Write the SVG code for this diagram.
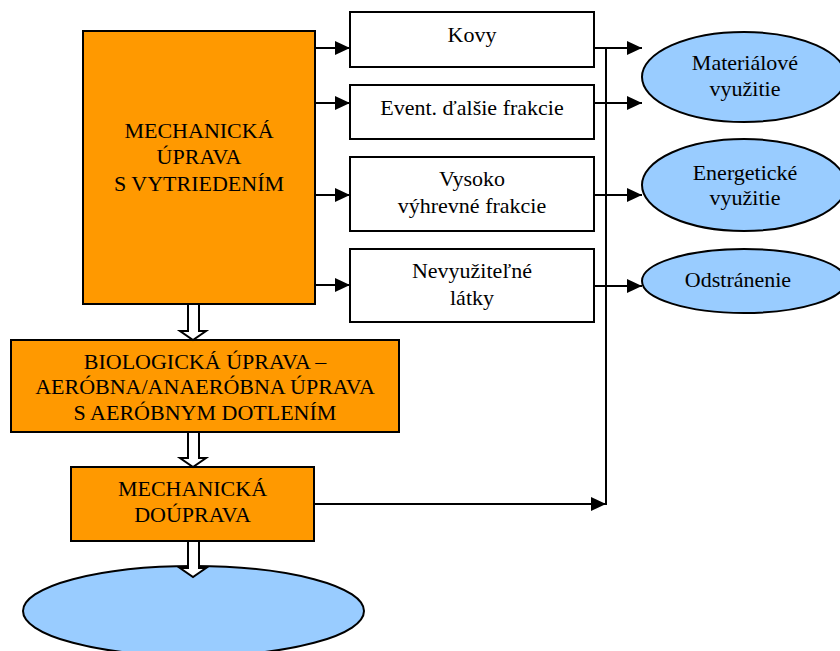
<svg xmlns="http://www.w3.org/2000/svg" width="840" height="651" viewBox="0 0 840 651" font-family="'Liberation Serif', 'Times New Roman', 'DejaVu Serif', serif">
<defs>
<style>
.proc{fill:#FF9900;stroke:#000;stroke-width:2}
.box{fill:#fff;stroke:#000;stroke-width:2}
.ell{fill:#99CCFF;stroke:#000;stroke-width:2}
.t{font-family:'Liberation Serif','Times New Roman','DejaVu Serif',serif;font-size:22px;fill:#000;text-anchor:middle}
.ln{fill:none;stroke:#000;stroke-width:2}
.hollow{fill:#fff;stroke:#000;stroke-width:2;stroke-linejoin:miter}
</style>
<marker id="ah" markerWidth="15" markerHeight="14" refX="15" refY="7" orient="auto" markerUnits="userSpaceOnUse">
<path d="M0,0 L15,7 L0,14 Z" fill="#000"/>
</marker>
</defs>
<rect width="840" height="651" fill="#fff"/>

<g id="mech-uprava">
<rect class="proc" x="83" y="31" width="232" height="273"/>
<text class="t" x="199" y="138">MECHANICKÁ</text>
<text class="t" x="199" y="164">ÚPRAVA</text>
<text class="t" x="199" y="191">S VYTRIEDENÍM</text>
</g>

<g id="bio-uprava">
<rect class="proc" x="11" y="340" width="388" height="92"/>
<text class="t" x="205" y="369">BIOLOGICKÁ ÚPRAVA –</text>
<text class="t" x="205" y="394">AERÓBNA/ANAERÓBNA ÚPRAVA</text>
<text class="t" x="205" y="420">S AERÓBNYM DOTLENÍM</text>
</g>

<g id="mech-douprava">
<rect class="proc" x="71" y="467" width="243" height="74"/>
<text class="t" x="192.5" y="496">MECHANICKÁ</text>
<text class="t" x="192.5" y="522">DOÚPRAVA</text>
</g>

<g id="final">
<ellipse class="ell" cx="193.5" cy="611" rx="170.5" ry="45"/>
</g>

<g id="kovy">
<rect class="box" x="350" y="12" width="244" height="55"/>
<text class="t" x="472" y="42">Kovy</text>
</g>

<g id="event">
<rect class="box" x="350" y="85" width="244" height="54"/>
<text class="t" x="472" y="115">Event. ďalšie frakcie</text>
</g>

<g id="vysoko">
<rect class="box" x="350" y="157" width="244" height="74"/>
<text class="t" x="472" y="186">Vysoko</text>
<text class="t" x="472" y="213">výhrevné frakcie</text>
</g>

<g id="nevyuzitelne">
<rect class="box" x="350" y="249" width="244" height="73"/>
<text class="t" x="472" y="278">Nevyužiteľné</text>
<text class="t" x="472" y="305">látky</text>
</g>

<g id="materialove">
<ellipse class="ell" cx="744" cy="77" rx="102" ry="45"/>
<text class="t" x="745" y="70">Materiálové</text>
<text class="t" x="745" y="96">využitie</text>
</g>

<g id="energeticke">
<ellipse class="ell" cx="744" cy="185" rx="102" ry="46"/>
<text class="t" x="745" y="180">Energetické</text>
<text class="t" x="745" y="205">využitie</text>
</g>

<g id="odstranenie">
<ellipse class="ell" cx="744" cy="281" rx="102" ry="32"/>
<text class="t" x="738" y="287">Odstránenie</text>
</g>

<g id="connectors">
<line class="ln" x1="315" y1="48" x2="350" y2="48" marker-end="url(#ah)"/>
<line class="ln" x1="315" y1="103" x2="350" y2="103" marker-end="url(#ah)"/>
<line class="ln" x1="315" y1="195" x2="350" y2="195" marker-end="url(#ah)"/>
<line class="ln" x1="315" y1="285" x2="350" y2="285" marker-end="url(#ah)"/>
<line class="ln" x1="594" y1="48" x2="642" y2="48" marker-end="url(#ah)"/>
<line class="ln" x1="594" y1="103" x2="642" y2="103" marker-end="url(#ah)"/>
<line class="ln" x1="594" y1="195" x2="642" y2="195" marker-end="url(#ah)"/>
<line class="ln" x1="594" y1="286" x2="642" y2="286" marker-end="url(#ah)"/>
<line class="ln" x1="606" y1="47" x2="606" y2="505"/>
<line class="ln" x1="314" y1="504" x2="606" y2="504" marker-end="url(#ah)"/>
<polygon class="hollow" points="188,304 199,304 199,331 206,331 193,340 180,331 188,331"/>
<polygon class="hollow" points="188,432 199,432 199,458 206,458 193,467 180,458 188,458"/>
<polygon class="hollow" points="188,541 199,541 199,568 206,568 193,577 180,568 188,568"/>
</g>
</svg>
